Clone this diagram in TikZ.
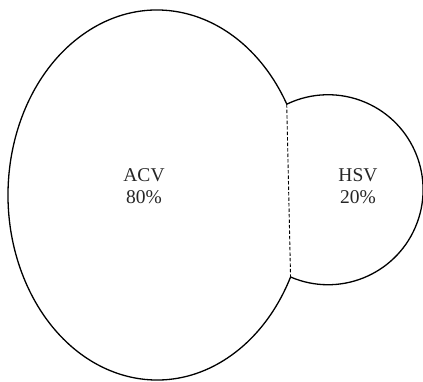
\documentclass[tikz,border=0pt]{standalone}
\usepackage{fontspec}
\setmainfont{Liberation Serif}
\begin{document}
\begin{tikzpicture}[x=1pt,y=1pt,
  outline/.style={draw=black, line width=1.3pt},
  cutline/.style={draw=black, line width=0.9pt, dash pattern=on 3.5pt off 2pt},
  lbl/.style={align=center, font=\fontsize{19.5}{22}\selectfont, text=black!85, inner sep=0pt}]
\useasboundingbox (0,0) rectangle (423,381);
% cut points on the large ellipse (centre (157,186), radii 149 x 185)
\coordinate (ctop) at ({157+149*cos(29.46)},{186+185*sin(29.46)});
\coordinate (cbot) at ({157+149*cos(-26.31)},{186+185*sin(-26.31)});
% outer outline: big ellipse arc then small circle arc
\draw[outline] (ctop) arc[start angle=29.46, end angle=333.69, x radius=149, y radius=185]
  arc[start angle=-113.26, end angle=115.66, radius=95] -- cycle;
\draw[cutline] (ctop) -- (cbot);
\node[lbl] (acv) at (144,195) {ACV\\80\%};
\node[lbl] (hsv) at (358,195) {HSV\\20\%};
\end{tikzpicture}
\end{document}
